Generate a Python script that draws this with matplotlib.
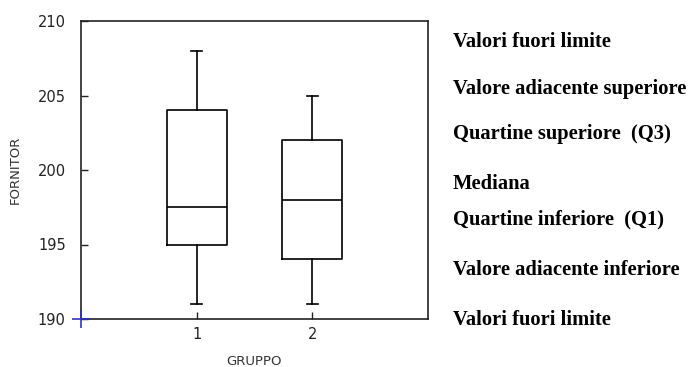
import matplotlib
matplotlib.use("Agg")
import matplotlib.pyplot as plt

# Five-number summaries per group
groups = ["1", "2"]
whisker_low = [191.0, 191.0]
q1 = [195.0, 194.0]
median = [197.5, 198.0]
q3 = [204.0, 202.0]
whisker_high = [208.0, 205.0]

y_ticks = [190, 195, 200, 205, 210]
y_tick_labels = ["190", "195", "200", "205", "210"]

legend_labels = [
    "Valori fuori limite",
    "Valore adiacente superiore",
    "Quartine superiore  (Q3)",
    "Mediana",
    "Quartine inferiore  (Q1)",
    "Valore adiacente inferiore",
    "Valori fuori limite",
]
legend_rows_px = [42, 89, 134, 184, 219, 270, 320]

W, H = 690, 367
fig = plt.figure(figsize=(W / 100, H / 100), dpi=100)
ax = fig.add_axes([81 / W, 1 - 319 / H, (428 - 81) / W, (319 - 21) / H])

stats = []
for i, g in enumerate(groups):
    stats.append({
        "label": g,
        "whislo": whisker_low[i],
        "q1": q1[i],
        "med": median[i],
        "q3": q3[i],
        "whishi": whisker_high[i],
        "fliers": [],
    })

line = dict(color="black", linewidth=1.2)
ax.bxp(stats, positions=[1, 2], widths=0.52, capwidths=0.09,
       showfliers=False, boxprops=line, whiskerprops=line,
       capprops=line, medianprops=line)

ax.set_xlim(0, 3)
ax.set_ylim(190, 210)
ax.set_yticks(y_ticks)
ax.set_yticklabels(y_tick_labels)
ax.set_xticks([1, 2])
ax.set_xticklabels(groups)

for s in ax.spines.values():
    s.set_linewidth(1.2)
    s.set_color("#222222")

ax.tick_params(axis="both", direction="in", length=5, width=1.0,
               labelsize=10.5, colors="#222222")
ax.tick_params(axis="y", pad=11)
ax.tick_params(axis="x", pad=6)

ax.set_ylabel("FORNITOR", fontsize=9.5, color="#333333")
ax.yaxis.set_label_coords(-0.172, 0.5)
ax.set_xlabel("GRUPPO", fontsize=9.5, color="#333333")
ax.xaxis.set_label_coords(0.5, -0.12)

# blue cross at the origin of the axes
ax.plot([0], [190], marker="+", markersize=13, markeredgewidth=1.2,
        color="#3333bb", clip_on=False, zorder=5)

for text, ypx in zip(legend_labels, legend_rows_px):
    fig.text(453 / W, 1 - ypx / H, text, fontsize=14.8, fontweight="bold",
             family="Liberation Serif", va="center", ha="left", color="black")

fig.savefig("out.png", dpi=100)
